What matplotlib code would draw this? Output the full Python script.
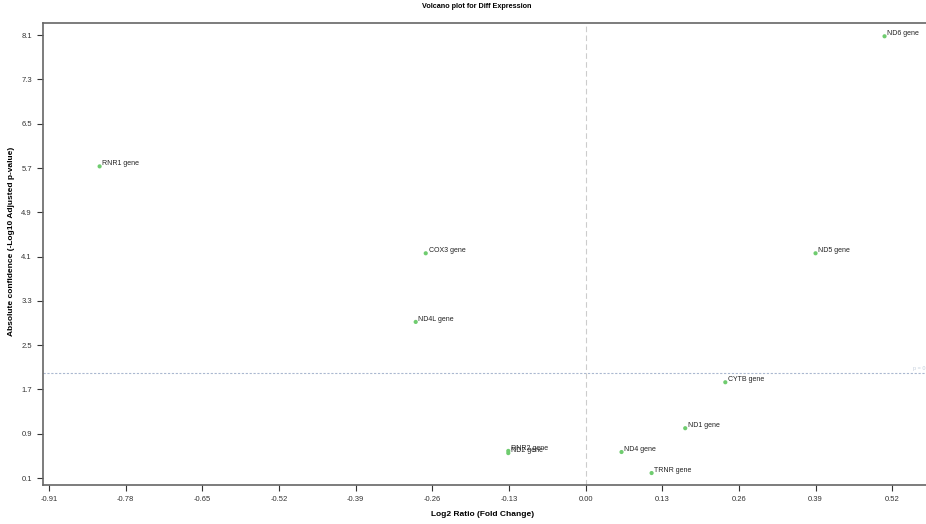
import matplotlib
matplotlib.use("Agg")
import matplotlib.pyplot as plt

plt.rcParams['font.family'] = ['Liberation Sans', 'DejaVu Sans']

genes = ['ND6 gene', 'RNR1 gene', 'COX3 gene', 'ND5 gene', 'ND4L gene',
         'CYTB gene', 'ND1 gene', 'ND4 gene', 'RNR2 gene', 'ND2 gene', 'TRNR gene']
log2_ratio = [0.507, -0.824, -0.271, 0.390, -0.288,
              0.237, 0.169, 0.061, -0.131, -0.131, 0.112]
neg_log10_p = [8.08, 5.73, 4.16, 4.16, 2.92,
               1.83, 1.00, 0.57, 0.59, 0.55, 0.19]

xticks = [-0.91, -0.78, -0.65, -0.52, -0.39, -0.26, -0.13, 0.00, 0.13, 0.26, 0.39, 0.52]
yticks = [0.1, 0.9, 1.7, 2.5, 3.3, 4.1, 4.9, 5.7, 6.5, 7.3, 8.1]
p_cut = 2.0

fig = plt.figure(figsize=(9.26, 5.24), dpi=100)
ax = fig.add_axes([43 / 926, 39 / 524, 1.0 - 43 / 926 + 0.01, 462 / 524])

ax.set_xlim(-0.92, 0.593)
ax.set_ylim(-0.026, 8.32)

# significance cut-off and zero fold change
ax.axhline(p_cut, color='#aab8d0', linestyle=(0, (2, 1.5)), linewidth=0.8, zorder=1)
ax.axvline(0, color='#cccccc', linestyle=(0, (5, 3)), linewidth=0.8, zorder=1)
ax.text(0.555, p_cut + 0.03, 'p = 0.01', fontsize=4, color='#c4cedc',
        ha='left', va='bottom')

ax.scatter(log2_ratio, neg_log10_p, s=9, color='#6fcc6f', edgecolors='none', zorder=3)
for g, x, y in zip(genes, log2_ratio, neg_log10_p):
    ax.annotate(g, (x, y), xytext=(2, 2), textcoords='offset points',
                fontsize=5, color='#222222', ha='left', va='center', zorder=4)

ax.set_xticks(xticks)
ax.set_xticklabels(['%.2f' % v for v in xticks])
ax.set_yticks(yticks)
ax.set_yticklabels(['%.1f' % v for v in yticks])
ax.tick_params(labelsize=5.5, colors='#333333', length=4, width=0.8, pad=4)

for side in ['left', 'bottom', 'top', 'right']:
    ax.spines[side].set_color('#666666')
    ax.spines[side].set_linewidth(1.2)

fig.text(477 / 926, 1 - 7 / 524, 'Volcano plot for Diff Expression', fontsize=5.2,
         fontweight='bold', ha='center', va='center')
fig.text(483 / 926, 1 - 515 / 524, 'Log2 Ratio (Fold Change)', fontsize=6,
         fontweight='bold', ha='center', va='center')
fig.text(12 / 926, 1 - 241 / 524, 'Absolute confidence (-Log10 Adjusted p-value)',
         fontsize=6, fontweight='bold', rotation=90, ha='center', va='center')

fig.savefig('out.png', dpi=100)
